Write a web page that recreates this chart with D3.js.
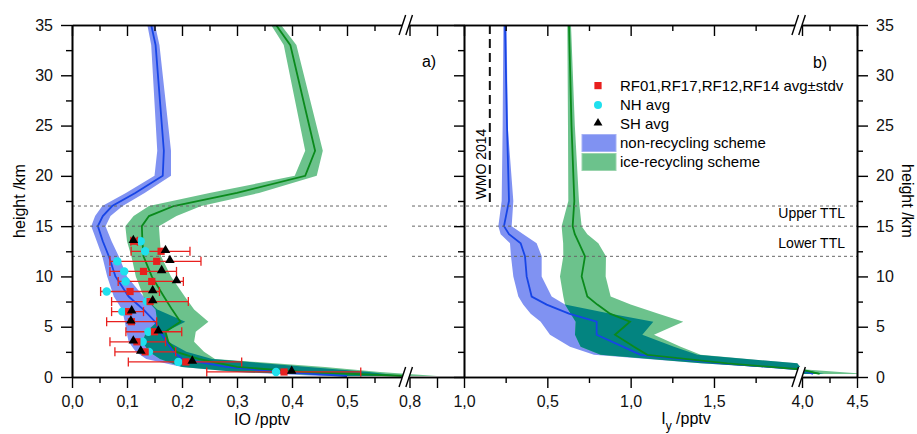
<!DOCTYPE html>
<html>
<head>
<meta charset="utf-8">
<script src="https://cdn.jsdelivr.net/npm/d3@7"></script>
<style>
  body { margin: 0; background: #fff; }
  svg { display: block; font-family: "Liberation Sans", Arial, sans-serif; }
</style>
</head>
<body>
<div id="chart"></div>
<script>
// profils modèle, panneau a) IO
const hA        = [0.1, 0.5, 1.0, 1.8, 2.5, 3.5, 4.5, 5.5, 6.7, 8, 10, 12, 13.5, 15, 16, 17, 18.3, 20, 22.5, 33, 35];
const nonRecA   = [0.50, 0.38, 0.28, 0.20, 0.185, 0.172, 0.160, 0.151, 0.130, 0.103, 0.079, 0.067, 0.056, 0.047, 0.056, 0.073, 0.115, 0.165, 0.167, 0.152, 0.144];
const nonRecALo = [0.45, 0.30, 0.20, 0.135, 0.116, 0.103, 0.099, 0.096, 0.091, 0.076, 0.064, 0.055, 0.045, 0.035, 0.042, 0.055, 0.098, 0.150, 0.155, 0.144, 0.137];
const nonRecAHi = [0.62, 0.54, 0.43, 0.255, 0.208, 0.175, 0.170, 0.206, 0.155, 0.130, 0.100, 0.085, 0.072, 0.061, 0.070, 0.092, 0.132, 0.180, 0.180, 0.159, 0.151];
const iceRecA   = [0.70, 0.42, 0.30, 0.23, 0.19, 0.175, 0.170, 0.197, 0.182, 0.167, 0.145, 0.130, 0.128, 0.127, 0.140, 0.185, 0.300, 0.424, 0.442, 0.397, 0.371];
const iceRecALo = [0.50, 0.30, 0.20, 0.16, 0.14, 0.128, 0.135, 0.155, 0.152, 0.130, 0.116, 0.108, 0.100, 0.097, 0.112, 0.140, 0.250, 0.405, 0.424, 0.385, 0.362];
const iceRecAHi = [0.85, 0.56, 0.46, 0.26, 0.24, 0.222, 0.225, 0.248, 0.222, 0.205, 0.180, 0.162, 0.160, 0.158, 0.190, 0.235, 0.340, 0.445, 0.456, 0.408, 0.380];

// profils modèle, panneau b) Iy
const hB        = [0.3, 0.77, 1.36, 2.2, 3.0, 4.2, 5.5, 6.3, 7.2, 8.0, 10, 12, 13.3, 14.2, 15, 17.5, 25, 35];
const nonRecB   = [4.10, 2.6, 1.55, 1.06, 0.956, 0.796, 0.796, 0.630, 0.496, 0.406, 0.376, 0.366, 0.340, 0.270, 0.240, 0.270, 0.258, 0.246];
const nonRecBLo = [4.00, 2.0, 1.42, 0.78, 0.636, 0.516, 0.460, 0.400, 0.355, 0.326, 0.296, 0.282, 0.276, 0.220, 0.206, 0.226, 0.232, 0.236];
const nonRecBHi = [4.20, 4.0, 2.0, 1.40, 1.26, 1.07, 1.136, 0.88, 0.606, 0.526, 0.466, 0.466, 0.436, 0.356, 0.286, 0.296, 0.262, 0.256];
const iceRecB   = [4.16, 2.8, 1.58, 1.10, 1.02, 0.906, 0.996, 0.876, 0.800, 0.740, 0.706, 0.726, 0.690, 0.665, 0.652, 0.662, 0.645, 0.630];
const iceRecBLo = [4.00, 2.0, 1.42, 0.82, 0.70, 0.666, 0.670, 0.640, 0.606, 0.596, 0.576, 0.596, 0.595, 0.590, 0.586, 0.626, 0.624, 0.620];
const iceRecBHi = [4.60, 4.0, 2.0, 1.42, 1.30, 1.14, 1.316, 1.167, 1.00, 0.880, 0.850, 0.852, 0.806, 0.740, 0.706, 0.690, 0.665, 0.642];

// mesures (panneau a)
const obsH  = [0.5, 1.5, 2.5, 3.5, 4.5, 5.5, 6.5, 7.5, 8.5, 9.5, 10.5, 11.5, 12.5, 13.5];
const rfAvg = [0.3855, 0.207, 0.133, 0.118, 0.150, 0.108, 0.103, 0.142, 0.1055, 0.145, 0.130, 0.154, 0.162, 0.113];
const rfLo  = [0.245, 0.1024, 0.078, 0.069, 0.098, 0.063, 0.072, 0.072, 0.052, 0.084, 0.069, 0.069, 0.1075, 0.107];
const rfHi  = [0.525, 0.3085, 0.1885, 0.170, 0.1995, 0.154, 0.130, 0.2115, 0.159, 0.2025, 0.190, 0.2345, 0.2145, 0.119];
const nhAvg = [0.371, 0.1933, 0.140, 0.1285, 0.139, null, 0.0915, 0.136, 0.063, 0.0976, 0.095, 0.0824, 0.133, 0.125];
const shAvg = [0.3994, 0.2187, 0.125, 0.1115, 0.157, 0.107, 0.1085, 0.1467, 0.1467, 0.190, 0.163, 0.178, 0.170, 0.1115];

// ticks
const xTicksA  = [0, 0.1, 0.2, 0.3, 0.4, 0.5, 0.8, 0.85];
const xLabelsA = ["0,0", "0,1", "0,2", "0,3", "0,4", "0,5", "0,8", ""];
const xMinorA  = [0.05, 0.15, 0.25, 0.35, 0.45, 0.55];
const xTicksB  = [0, 0.5, 1.0, 1.5, 4.0, 4.5];
const xLabelsB = ["1,0", "0,5", "1,0", "1,5", "4,0", "4,5"];
const xMinorB  = [0.25, 0.75, 1.25, 1.75, 4.25];
const yTicks   = [0, 5, 10, 15, 20, 25, 30, 35];
const yMinor   = [2.5, 7.5, 12.5, 17.5, 22.5, 27.5, 32.5];

const ttlH = [12, 15, 17];
const wmoValue = 0.155;

// couleurs
const blueFill = "#8092f2", blueLine = "#1745e6";
const greenFill = "#6cc28c", greenLine = "#0a8a1c";
const tealFill = "#038480";
const red = "#e8201e", cyan = "#1fe0ee";

const W = 917, H = 434;
const svg = d3.select("#chart").append("svg").attr("width", W).attr("height", H);

// échelles (axes coupés)
const y = d3.scaleLinear().domain([0, 35]).range([377, 25]);
const xA = d3.scaleLinear().domain([0, 0.6, 0.8, 0.9]).range([72, 402, 409.5, 464.5]);
const xB = d3.scaleLinear().domain([0, 2.0, 4.0, 4.5]).range([464, 797.3, 802, 857]);

const defs = svg.append("defs");
defs.append("clipPath").attr("id", "clipA").append("rect")
    .attr("x", 72).attr("y", 25).attr("width", 392).attr("height", 352);
defs.append("clipPath").attr("id", "clipB").append("rect")
    .attr("x", 464).attr("y", 25).attr("width", 393).attr("height", 352);

function rows(h, mid, lo, hi) {
    return h.map((d, i) => ({ h: d, mid: mid[i], lo: lo[i], hi: hi[i] }));
}

function drawPanel(id, x, blue, green) {
    let area = d3.area().x0(d => x(d.lo)).x1(d => x(d.hi)).y(d => y(d.h));
    let line = d3.line().x(d => x(d.mid)).y(d => y(d.h));

    defs.append("clipPath").attr("id", "blueBand" + id)
        .append("path").attr("d", area(blue));

    let g = svg.append("g").attr("clip-path", "url(#clip" + id + ")");
    g.append("path").attr("d", area(blue)).attr("fill", blueFill);
    g.append("path").attr("d", area(green)).attr("fill", greenFill);
    // recouvrement des deux enveloppes
    g.append("g").attr("clip-path", "url(#blueBand" + id + ")")
        .append("path").attr("d", area(green)).attr("fill", tealFill);
    g.append("path").attr("d", line(blue)).attr("fill", "none")
        .attr("stroke", blueLine).attr("stroke-width", 1.8);
    g.append("path").attr("d", line(green)).attr("fill", "none")
        .attr("stroke", greenLine).attr("stroke-width", 1.8);
    return g;
}

drawPanel("A", xA, rows(hA, nonRecA, nonRecALo, nonRecAHi), rows(hA, iceRecA, iceRecALo, iceRecAHi));
drawPanel("B", xB, rows(hB, nonRecB, nonRecBLo, nonRecBHi), rows(hB, iceRecB, iceRecBLo, iceRecBHi));

// lignes TTL
ttlH.forEach(h => {
    [[72, 390], [412, 857]].forEach(seg => {
        svg.append("line")
            .attr("x1", seg[0]).attr("x2", seg[1])
            .attr("y1", y(h)).attr("y2", y(h))
            .attr("stroke", "#666").attr("stroke-width", 1)
            .attr("stroke-dasharray", "3,3");
    });
});

// WMO 2014
svg.append("line")
    .attr("x1", xB(wmoValue)).attr("x2", xB(wmoValue))
    .attr("y1", y(35)).attr("y2", y(17))
    .attr("stroke", "#111").attr("stroke-width", 2)
    .attr("stroke-dasharray", "9,5");
svg.append("text")
    .attr("transform", "translate(" + (xB(wmoValue) - 9) + "," + 164 + ") rotate(-90)")
    .attr("text-anchor", "middle").attr("dy", "0.35em")
    .style("font-size", "14px").text("WMO 2014");

// mesures
let obs = obsH.map((h, i) => ({ h: h, rf: rfAvg[i], lo: rfLo[i], hi: rfHi[i], nh: nhAvg[i], sh: shAvg[i] }));
let og = svg.append("g");

og.selectAll(".err").data(obs).enter().append("g").each(function (d) {
    let e = d3.select(this);
    e.append("line").attr("x1", xA(d.lo)).attr("x2", xA(d.hi))
        .attr("y1", y(d.h)).attr("y2", y(d.h));
    e.append("line").attr("x1", xA(d.lo)).attr("x2", xA(d.lo))
        .attr("y1", y(d.h) - 4.5).attr("y2", y(d.h) + 4.5);
    e.append("line").attr("x1", xA(d.hi)).attr("x2", xA(d.hi))
        .attr("y1", y(d.h) - 4.5).attr("y2", y(d.h) + 4.5);
}).attr("stroke", red).attr("stroke-width", 1.3);

og.selectAll(".nh").data(obs.filter(d => d.nh != null)).enter().append("circle")
    .attr("cx", d => xA(d.nh)).attr("cy", d => y(d.h)).attr("r", 4.2)
    .attr("fill", cyan);

og.selectAll(".rf").data(obs).enter().append("rect")
    .attr("x", d => xA(d.rf) - 3.6).attr("y", d => y(d.h) - 3.6)
    .attr("width", 7.2).attr("height", 7.2).attr("fill", red);

let tri = d3.symbol().type(d3.symbolTriangle).size(40);
og.selectAll(".sh").data(obs).enter().append("path")
    .attr("d", tri)
    .attr("transform", d => "translate(" + xA(d.sh) + "," + (y(d.h) - 1) + ")")
    .attr("fill", "#000");

// axes
function styleAxis(sel) {
    sel.select(".domain").attr("stroke-width", 1.6);
    sel.selectAll(".tick line").attr("stroke-width", 1.4);
    sel.selectAll(".tick text").style("font-size", "16px").attr("fill", "#111");
    sel.attr("font-family", null);
}

function addX(x, ticks, labels, minor, ypos, top) {
    let mk = top ? d3.axisTop : d3.axisBottom;
    let s = top ? -1 : 1;
    svg.append("g").attr("transform", "translate(0," + ypos + ")")
        .call(mk(x).tickValues(minor).tickFormat("").tickSize(6 * s).tickSizeOuter(0)).call(styleAxis);
    svg.append("g").attr("transform", "translate(0," + ypos + ")")
        .call(mk(x).tickValues(ticks).tickFormat((d, i) => top ? "" : labels[i])
            .tickSize(11 * s).tickPadding(8).tickSizeOuter(0)).call(styleAxis);
}
addX(xA, xTicksA, xLabelsA, xMinorA, y(0), false);
addX(xA, xTicksA, xLabelsA, xMinorA, y(35), true);
addX(xB, xTicksB, xLabelsB, xMinorB, y(0), false);
addX(xB, xTicksB, xLabelsB, xMinorB, y(35), true);

function addY(mk, xpos, labels, size) {
    svg.append("g").attr("transform", "translate(" + xpos + ",0)")
        .call(mk(y).tickValues(yMinor).tickFormat("").tickSize(6).tickSizeOuter(0)).call(styleAxis);
    svg.append("g").attr("transform", "translate(" + xpos + ",0)")
        .call(mk(y).tickValues(yTicks).tickFormat(labels ? d3.format("d") : "")
            .tickSize(size).tickPadding(labels ? 8 : 3).tickSizeOuter(0)).call(styleAxis);
}
addY(d3.axisLeft, 72, true, 11);
addY(d3.axisLeft, 464, false, 10);
addY(d3.axisRight, 857, true, 11);

// coupures d'axe
function axisBreak(cx, cy) {
    let g = svg.append("g");
    g.append("polygon")
        .attr("points", [[cx - 7, cy + 10], [cx - 0.3, cy - 10], [cx + 7, cy - 10], [cx + 0.3, cy + 10]].join(" "))
        .attr("fill", "#fff");
    [-3.4, 3.4].forEach(o => {
        g.append("line")
            .attr("x1", cx + o - 3.3).attr("y1", cy + 10)
            .attr("x2", cx + o + 3.3).attr("y2", cy - 10)
            .attr("stroke", "#000").attr("stroke-width", 1.4);
    });
}
axisBreak((xA(0.6) + xA(0.8)) / 2, y(0));
axisBreak((xA(0.6) + xA(0.8)) / 2, y(35));
axisBreak((xB(2.0) + xB(4.0)) / 2 - 1, y(0));
axisBreak((xB(2.0) + xB(4.0)) / 2 - 1, y(35));

// titres
svg.append("text").attr("x", 262).attr("y", 425).attr("text-anchor", "middle")
    .style("font-size", "16px").text("IO /pptv");
let tb = svg.append("text").attr("x", 686).attr("y", 424).attr("text-anchor", "middle")
    .style("font-size", "16px");
tb.append("tspan").text("I");
tb.append("tspan").attr("dy", 6).style("font-size", "12px").text("y");
tb.append("tspan").attr("dy", -6).text(" /pptv");

svg.append("text").attr("transform", "translate(19,201) rotate(-90)")
    .attr("text-anchor", "middle").attr("dy", "0.35em")
    .style("font-size", "16px").text("height /km");
svg.append("text").attr("transform", "translate(908,201) rotate(90)")
    .attr("text-anchor", "middle").attr("dy", "0.35em")
    .style("font-size", "16px").text("height /km");

svg.append("text").attr("x", 429).attr("y", 67).attr("text-anchor", "middle")
    .style("font-size", "16px").text("a)");
svg.append("text").attr("x", 820).attr("y", 68).attr("text-anchor", "middle")
    .style("font-size", "16px").text("b)");

svg.append("text").attr("x", 845).attr("y", 218).attr("text-anchor", "end")
    .style("font-size", "14px").text("Upper TTL");
svg.append("text").attr("x", 845).attr("y", 248).attr("text-anchor", "end")
    .style("font-size", "14px").text("Lower TTL");

// légende
let leg = svg.append("g").style("font-size", "15px");
let legRows = [86, 105, 124, 143, 162];
leg.append("rect").attr("x", 598 - 3.6).attr("y", legRows[0] - 4).attr("width", 7.2).attr("height", 7.2).attr("fill", red);
leg.append("circle").attr("cx", 598).attr("cy", legRows[1]).attr("r", 4).attr("fill", cyan);
leg.append("path").attr("d", d3.symbol().type(d3.symbolTriangle).size(34))
    .attr("transform", "translate(598," + (legRows[2] - 1) + ")").attr("fill", "#000");
leg.append("rect").attr("x", 582).attr("y", legRows[3] - 8.5).attr("width", 34).attr("height", 17)
    .attr("fill", blueFill).attr("stroke", "#a5b1f5").attr("stroke-width", 1);
leg.append("rect").attr("x", 582).attr("y", legRows[4] - 8.5).attr("width", 34).attr("height", 17)
    .attr("fill", greenFill).attr("stroke", "#9ad4ad").attr("stroke-width", 1);
let legText = ["RF01,RF17,RF12,RF14 avg\u00b1stdv", "NH avg", "SH avg", "non-recycling scheme", "ice-recycling scheme"];
legText.forEach((t, i) => {
    leg.append("text").attr("x", 620).attr("y", legRows[i]).attr("dy", "0.35em").text(t);
});
</script>
</body>
</html>
